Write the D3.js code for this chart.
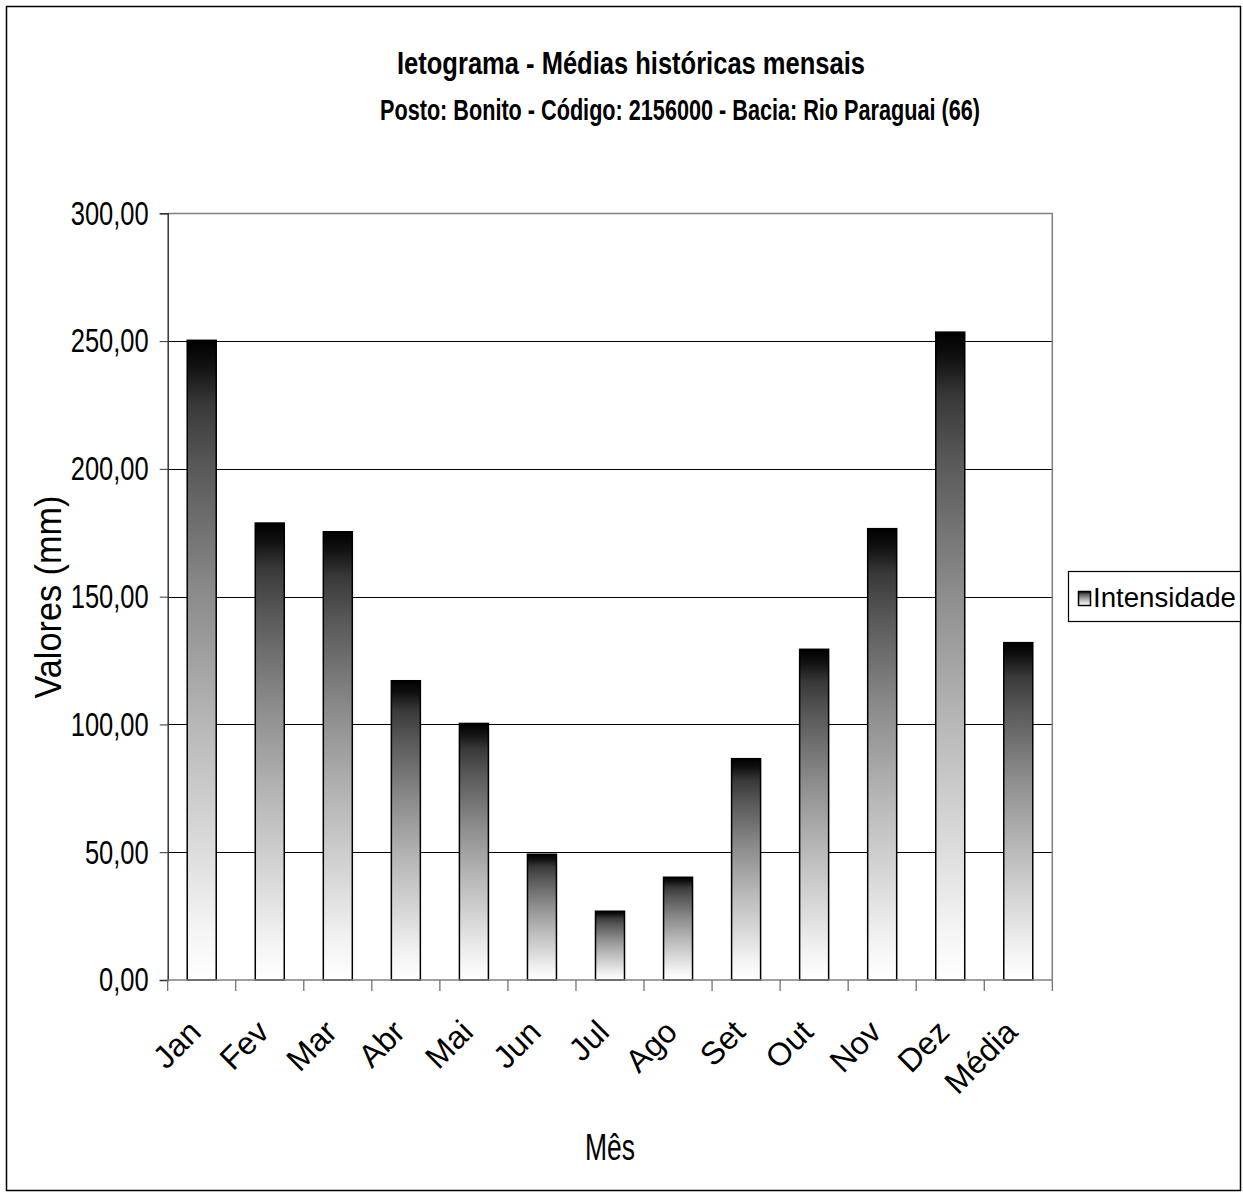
<!DOCTYPE html>
<html>
<head>
<meta charset="utf-8">
<script src="https://cdn.jsdelivr.net/npm/d3@7"></script>
<style>
html,body{margin:0;padding:0;background:#fff;}
svg{display:block;font-family:"Liberation Sans",Arial,sans-serif;}
</style>
</head>
<body>
<script>
const categories = ["Jan","Fev","Mar","Abr","Mai","Jun","Jul","Ago","Set","Out","Nov","Dez","Média"];
const values = [250.3,178.8,175.4,117.1,100.4,49.2,26.9,40.2,86.6,129.4,176.6,253.5,132.0];
const yTicks = [0,50,100,150,200,250,300];
const titleLines = ["Ietograma - Médias históricas mensais","Posto: Bonito - Código: 2156000 - Bacia: Rio Paraguai (66)"];
const seriesName = "Intensidade";
const yTitle = "Valores (mm)";
const xTitle = "Mês";

const W = 1243, H = 1197;
const L = 167.7, R = 1052.3, T = 213.3, B = 980;

const svg = d3.select("body").append("svg").attr("width",W).attr("height",H);

function squeeze(sel, k){
  sel.each(function(){
    const n = this.getComputedTextLength();
    d3.select(this).attr("textLength", n*k).attr("lengthAdjust","spacingAndGlyphs");
  });
}

// gradient
const defs = svg.append("defs");
const grad = defs.append("linearGradient").attr("id","barGrad")
  .attr("x1",0).attr("y1",0).attr("x2",0).attr("y2",1);
[[0,"#000"],[0.04,"#111"],[0.1,"#393939"],[0.2,"#595959"],[0.4,"#8c8c8c"],[0.6,"#b7b7b7"],[0.8,"#dddddd"],[0.92,"#f4f4f4"],[1,"#ffffff"]]
  .forEach(s=>grad.append("stop").attr("offset",s[0]).attr("stop-color",s[1]));

// outer border
svg.append("rect").attr("x",6.5).attr("y",6.5).attr("width",1234).attr("height",1184)
  .attr("fill","none").attr("stroke","#000").attr("stroke-width",1.5);

const x = d3.scaleBand().domain(categories).range([L,R]).padding(0);
const y = d3.scaleLinear().domain([0,300]).range([B,T]);
const fmt = v => d3.format(".2f")(v).replace(".",",");

// gridlines
svg.append("g").selectAll("line").data(yTicks.filter(d=>d>0 && d<300)).join("line")
  .attr("x1",L).attr("x2",R).attr("y1",d=>Math.round(y(d))+0.5).attr("y2",d=>Math.round(y(d))+0.5)
  .attr("stroke","#000").attr("stroke-width",1);

// plot border top/right
svg.append("path").attr("d",`M${L},${Math.round(T)+0.5}H${R}V${B}`).attr("fill","none")
  .attr("stroke","#808080").attr("stroke-width",1.5);

// bars
const bw = x.bandwidth();
const barW = 29;
svg.append("g").selectAll("rect").data(values).join("rect")
  .attr("x",(d,i)=>x(categories[i]) + (bw-barW)/2)
  .attr("y",d=>y(d))
  .attr("width",barW)
  .attr("height",d=>B-y(d))
  .attr("fill","url(#barGrad)")
  .attr("stroke","#000").attr("stroke-width",1.5);

// y axis
const yAxis = svg.append("g").attr("transform",`translate(${L},0)`)
  .call(d3.axisLeft(y).tickValues(yTicks).tickSize(8).tickPadding(11).tickFormat(fmt));
yAxis.select(".domain").attr("stroke","#333").attr("stroke-width",1.5);
yAxis.selectAll(".tick line").attr("stroke","#333");
yAxis.selectAll(".tick text").attr("font-size",34).attr("fill","#000")
  .attr("font-family","'Liberation Sans',Arial,sans-serif").call(squeeze,0.75);

// x axis
svg.append("line").attr("x1",L).attr("x2",R).attr("y1",B).attr("y2",B).attr("stroke","#808080").attr("stroke-width",1.5);
const bounds = categories.map(c=>x(c)).concat([x(categories[categories.length-1])+bw]);
svg.append("g").selectAll("line").data(bounds).join("line")
  .attr("x1",d=>d).attr("x2",d=>d).attr("y1",B).attr("y2",B+11)
  .attr("stroke","#666").attr("stroke-width",1.2);
svg.append("g").selectAll("text").data(categories).join("text")
  .attr("transform",c=>`translate(${x(c)+bw/2+1},${1034}) rotate(-45)`)
  .attr("text-anchor","end").attr("font-size",32).attr("fill","#000")
  .text(c=>c);

// titles
svg.append("text").attr("x",397).attr("y",74).attr("font-size",31).attr("font-weight","bold")
  .attr("textLength",468).attr("lengthAdjust","spacingAndGlyphs").text(titleLines[0]);
svg.append("text").attr("x",380).attr("y",120).attr("font-size",30).attr("font-weight","bold")
  .attr("textLength",600).attr("lengthAdjust","spacingAndGlyphs").text(titleLines[1]);

// y title
svg.append("text").attr("transform",`translate(61,597) rotate(-90)`).attr("text-anchor","middle")
  .attr("font-size",36).attr("textLength",203).attr("lengthAdjust","spacingAndGlyphs").text(yTitle);

// x title
svg.append("text").attr("x",585).attr("y",1160).attr("font-size",36)
  .attr("textLength",50).attr("lengthAdjust","spacingAndGlyphs").text(xTitle);

// legend
svg.append("rect").attr("x",1068.5).attr("y",571.5).attr("width",172).attr("height",50)
  .attr("fill","#fff").attr("stroke","#000").attr("stroke-width",1.2);
svg.append("rect").attr("x",1078.5).attr("y",591.5).attr("width",12).attr("height",14)
  .attr("fill","url(#barGrad)").attr("stroke","#000").attr("stroke-width",1.5);
svg.append("text").attr("x",1093).attr("y",607).attr("font-size",27)
  .attr("textLength",143).attr("lengthAdjust","spacingAndGlyphs").text(seriesName);
</script>
</body>
</html>
